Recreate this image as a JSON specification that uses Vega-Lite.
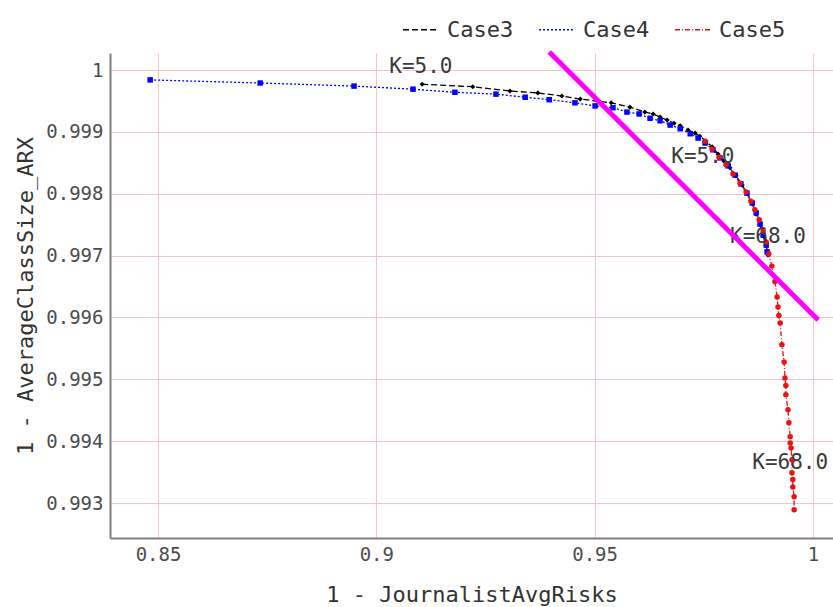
{
  "$schema": "https://vega.github.io/schema/vega-lite/v6.json",
  "width": 723,
  "height": 485,
  "autosize": {"type": "none"},
  "padding": {"left": 110, "top": 53, "right": 0, "bottom": 69},
  "background": "white",
  "config": {
    "view": {"stroke": null},
    "font": "DejaVu Sans Mono",
    "axis": {
      "gridColor": "#f6c3cb",
      "gridWidth": 1,
      "domainColor": "#808080",
      "domainWidth": 2,
      "ticks": false,
      "labelFont": "DejaVu Sans Mono",
      "labelFontSize": 19,
      "labelColor": "#4d4d4d",
      "titleFont": "DejaVu Sans Mono",
      "titleFontSize": 22,
      "titleFontWeight": "normal",
      "titleColor": "#333333"
    }
  },
  "datasets": {
    "main": [
      {"case": "Case3", "x": 0.9105, "y": 0.99977},
      {"case": "Case3", "x": 0.9221, "y": 0.99973},
      {"case": "Case3", "x": 0.9306, "y": 0.99966},
      {"case": "Case3", "x": 0.9370, "y": 0.99963},
      {"case": "Case3", "x": 0.9425, "y": 0.99958},
      {"case": "Case3", "x": 0.9467, "y": 0.99953},
      {"case": "Case3", "x": 0.9538, "y": 0.99947},
      {"case": "Case3", "x": 0.9581, "y": 0.99940},
      {"case": "Case3", "x": 0.9615, "y": 0.99932},
      {"case": "Case3", "x": 0.9634, "y": 0.99929},
      {"case": "Case3", "x": 0.9650, "y": 0.99924},
      {"case": "Case3", "x": 0.9666, "y": 0.99919},
      {"case": "Case3", "x": 0.9682, "y": 0.99914},
      {"case": "Case3", "x": 0.9696, "y": 0.99910},
      {"case": "Case3", "x": 0.9714, "y": 0.99903},
      {"case": "Case3", "x": 0.9730, "y": 0.99898},
      {"case": "Case3", "x": 0.9741, "y": 0.99893},
      {"case": "Case3", "x": 0.9755, "y": 0.99885},
      {"case": "Case3", "x": 0.9769, "y": 0.99876},
      {"case": "Case3", "x": 0.9783, "y": 0.99864},
      {"case": "Case3", "x": 0.9796, "y": 0.99853},
      {"case": "Case3", "x": 0.9810, "y": 0.99842},
      {"case": "Case3", "x": 0.9824, "y": 0.99829},
      {"case": "Case3", "x": 0.9838, "y": 0.99814},
      {"case": "Case3", "x": 0.9849, "y": 0.99800},
      {"case": "Case3", "x": 0.9861, "y": 0.99784},
      {"case": "Case3", "x": 0.9870, "y": 0.99767},
      {"case": "Case3", "x": 0.9879, "y": 0.99750},
      {"case": "Case3", "x": 0.9886, "y": 0.99732},
      {"case": "Case3", "x": 0.9893, "y": 0.99716},
      {"case": "Case3", "x": 0.9897, "y": 0.99701},
      {"case": "Case4", "x": 0.8482, "y": 0.99984},
      {"case": "Case4", "x": 0.8734, "y": 0.99979},
      {"case": "Case4", "x": 0.8949, "y": 0.99974},
      {"case": "Case4", "x": 0.9084, "y": 0.99969},
      {"case": "Case4", "x": 0.9180, "y": 0.99964},
      {"case": "Case4", "x": 0.9274, "y": 0.99961},
      {"case": "Case4", "x": 0.9341, "y": 0.99956},
      {"case": "Case4", "x": 0.9396, "y": 0.99952},
      {"case": "Case4", "x": 0.9455, "y": 0.99947},
      {"case": "Case4", "x": 0.9501, "y": 0.99942},
      {"case": "Case4", "x": 0.9542, "y": 0.99939},
      {"case": "Case4", "x": 0.9574, "y": 0.99932},
      {"case": "Case4", "x": 0.9602, "y": 0.99929},
      {"case": "Case4", "x": 0.9627, "y": 0.99922},
      {"case": "Case4", "x": 0.9650, "y": 0.99918},
      {"case": "Case4", "x": 0.9673, "y": 0.99911},
      {"case": "Case4", "x": 0.9696, "y": 0.99905},
      {"case": "Case4", "x": 0.9719, "y": 0.99897},
      {"case": "Case4", "x": 0.9737, "y": 0.99890},
      {"case": "Case4", "x": 0.9753, "y": 0.99882},
      {"case": "Case4", "x": 0.9771, "y": 0.99871},
      {"case": "Case4", "x": 0.9787, "y": 0.99858},
      {"case": "Case4", "x": 0.9806, "y": 0.99845},
      {"case": "Case4", "x": 0.9822, "y": 0.99830},
      {"case": "Case4", "x": 0.9835, "y": 0.99816},
      {"case": "Case4", "x": 0.9849, "y": 0.99801},
      {"case": "Case4", "x": 0.9861, "y": 0.99785},
      {"case": "Case4", "x": 0.9870, "y": 0.99769},
      {"case": "Case4", "x": 0.9879, "y": 0.99751},
      {"case": "Case4", "x": 0.9886, "y": 0.99733},
      {"case": "Case4", "x": 0.9893, "y": 0.99717},
      {"case": "Case4", "x": 0.9895, "y": 0.99706},
      {"case": "Case5", "x": 0.9753, "y": 0.99885},
      {"case": "Case5", "x": 0.9769, "y": 0.99872},
      {"case": "Case5", "x": 0.9785, "y": 0.99859},
      {"case": "Case5", "x": 0.9801, "y": 0.99847},
      {"case": "Case5", "x": 0.9817, "y": 0.99832},
      {"case": "Case5", "x": 0.9833, "y": 0.99817},
      {"case": "Case5", "x": 0.9847, "y": 0.99803},
      {"case": "Case5", "x": 0.9858, "y": 0.99788},
      {"case": "Case5", "x": 0.9867, "y": 0.99774},
      {"case": "Case5", "x": 0.9877, "y": 0.99758},
      {"case": "Case5", "x": 0.9886, "y": 0.99740},
      {"case": "Case5", "x": 0.9893, "y": 0.99722},
      {"case": "Case5", "x": 0.9899, "y": 0.99703},
      {"case": "Case5", "x": 0.9906, "y": 0.99683},
      {"case": "Case5", "x": 0.9913, "y": 0.99658},
      {"case": "Case5", "x": 0.9918, "y": 0.99633},
      {"case": "Case5", "x": 0.9920, "y": 0.99617},
      {"case": "Case5", "x": 0.9922, "y": 0.99603},
      {"case": "Case5", "x": 0.9925, "y": 0.99591},
      {"case": "Case5", "x": 0.9929, "y": 0.99556},
      {"case": "Case5", "x": 0.9934, "y": 0.99528},
      {"case": "Case5", "x": 0.9936, "y": 0.99502},
      {"case": "Case5", "x": 0.9938, "y": 0.99490},
      {"case": "Case5", "x": 0.9938, "y": 0.99475},
      {"case": "Case5", "x": 0.9943, "y": 0.99451},
      {"case": "Case5", "x": 0.9945, "y": 0.99430},
      {"case": "Case5", "x": 0.9948, "y": 0.99407},
      {"case": "Case5", "x": 0.9948, "y": 0.99397},
      {"case": "Case5", "x": 0.9950, "y": 0.99389},
      {"case": "Case5", "x": 0.9952, "y": 0.99370},
      {"case": "Case5", "x": 0.9952, "y": 0.99349},
      {"case": "Case5", "x": 0.9954, "y": 0.99338},
      {"case": "Case5", "x": 0.9954, "y": 0.99326},
      {"case": "Case5", "x": 0.9957, "y": 0.99310},
      {"case": "Case5", "x": 0.9957, "y": 0.99289}
    ],
    "labels": [
      {"label": "K=5.0", "x": 0.9102, "y": 1.00005},
      {"label": "K=5.0", "x": 0.9748, "y": 0.99859},
      {"label": "K=68.0", "x": 0.9897, "y": 0.99730},
      {"label": "K=68.0", "x": 0.9948, "y": 0.99365}
    ],
    "annot": [
      {"x": 0.9396, "y": 1.00029, "x2": 1.0012, "y2": 0.99596}
    ]
  },
  "layer": [
    {
      "data": {"name": "main"},
      "mark": {"type": "line", "strokeWidth": 1.3},
      "encoding": {
        "x": {
          "field": "x", "type": "quantitative",
          "scale": {"domain": [0.839, 1.0046], "nice": false, "zero": false},
          "axis": {"values": [0.85, 0.9, 0.95, 1], "title": "1 - JournalistAvgRisks", "labelExpr": "format(datum.value, '~g')", "labelPadding": 7, "titlePadding": 20}
        },
        "y": {
          "field": "y", "type": "quantitative",
          "scale": {"domain": [0.992435, 1.000275], "nice": false, "zero": false},
          "axis": {"values": [0.993, 0.994, 0.995, 0.996, 0.997, 0.998, 0.999, 1], "title": "1 - AverageClassSize_ARX", "labelExpr": "format(datum.value, '~g')", "labelPadding": 7, "titlePadding": 8}
        },
        "color": {
          "field": "case", "type": "nominal",
          "scale": {"domain": ["Case3", "Case4", "Case5"], "range": ["#000000", "#0000ff", "#ee1111"]},
          "legend": {
            "title": null, "orient": "none", "direction": "horizontal",
            "legendX": 292, "legendY": -42,
            "symbolType": "stroke", "symbolSize": 1225, "symbolStrokeWidth": 1.5,
            "labelFont": "DejaVu Sans Mono", "labelFontSize": 22, "labelColor": "#333333",
            "columnPadding": 22, "labelOffset": 8
          }
        },
        "strokeDash": {
          "field": "case", "type": "nominal",
          "scale": {"domain": ["Case3", "Case4", "Case5"], "range": [[6, 3], [2, 2], [5, 2, 1, 2]]},
          "legend": {
            "title": null, "orient": "none", "direction": "horizontal",
            "legendX": 292, "legendY": -42,
            "symbolType": "stroke", "symbolSize": 1225, "symbolStrokeWidth": 1.5,
            "labelFont": "DejaVu Sans Mono", "labelFontSize": 22, "labelColor": "#333333",
            "columnPadding": 22, "labelOffset": 8
          }
        },
        "order": {"field": "y", "sort": "descending"}
      }
    },
    {
      "data": {"name": "main"},
      "transform": [{"filter": "datum.case === 'Case3'"}],
      "mark": {"type": "point", "filled": true, "opacity": 1, "size": 26, "shape": "diamond", "color": "#000000"},
      "encoding": {
        "x": {"field": "x", "type": "quantitative"},
        "y": {"field": "y", "type": "quantitative"}
      }
    },
    {
      "data": {"name": "main"},
      "transform": [{"filter": "datum.case === 'Case4'"}],
      "mark": {"type": "point", "filled": true, "opacity": 1, "size": 30, "shape": "square", "color": "#0000ff"},
      "encoding": {
        "x": {"field": "x", "type": "quantitative"},
        "y": {"field": "y", "type": "quantitative"}
      }
    },
    {
      "data": {"name": "main"},
      "transform": [{"filter": "datum.case === 'Case5'"}],
      "mark": {"type": "point", "filled": true, "opacity": 1, "size": 30, "shape": "circle", "color": "#ee1111"},
      "encoding": {
        "x": {"field": "x", "type": "quantitative"},
        "y": {"field": "y", "type": "quantitative"}
      }
    },
    {
      "data": {"name": "labels"},
      "mark": {"type": "text", "font": "DejaVu Sans Mono", "fontSize": 21, "color": "#3a3a3a", "align": "center", "baseline": "middle"},
      "encoding": {
        "x": {"field": "x", "type": "quantitative"},
        "y": {"field": "y", "type": "quantitative"},
        "text": {"field": "label", "type": "nominal"}
      }
    },
    {
      "data": {"name": "annot"},
      "mark": {"type": "rule", "color": "#ff00ff", "strokeWidth": 5, "clip": false},
      "encoding": {
        "x": {"field": "x", "type": "quantitative"},
        "y": {"field": "y", "type": "quantitative"},
        "x2": {"field": "x2"},
        "y2": {"field": "y2"}
      }
    }
  ]
}
